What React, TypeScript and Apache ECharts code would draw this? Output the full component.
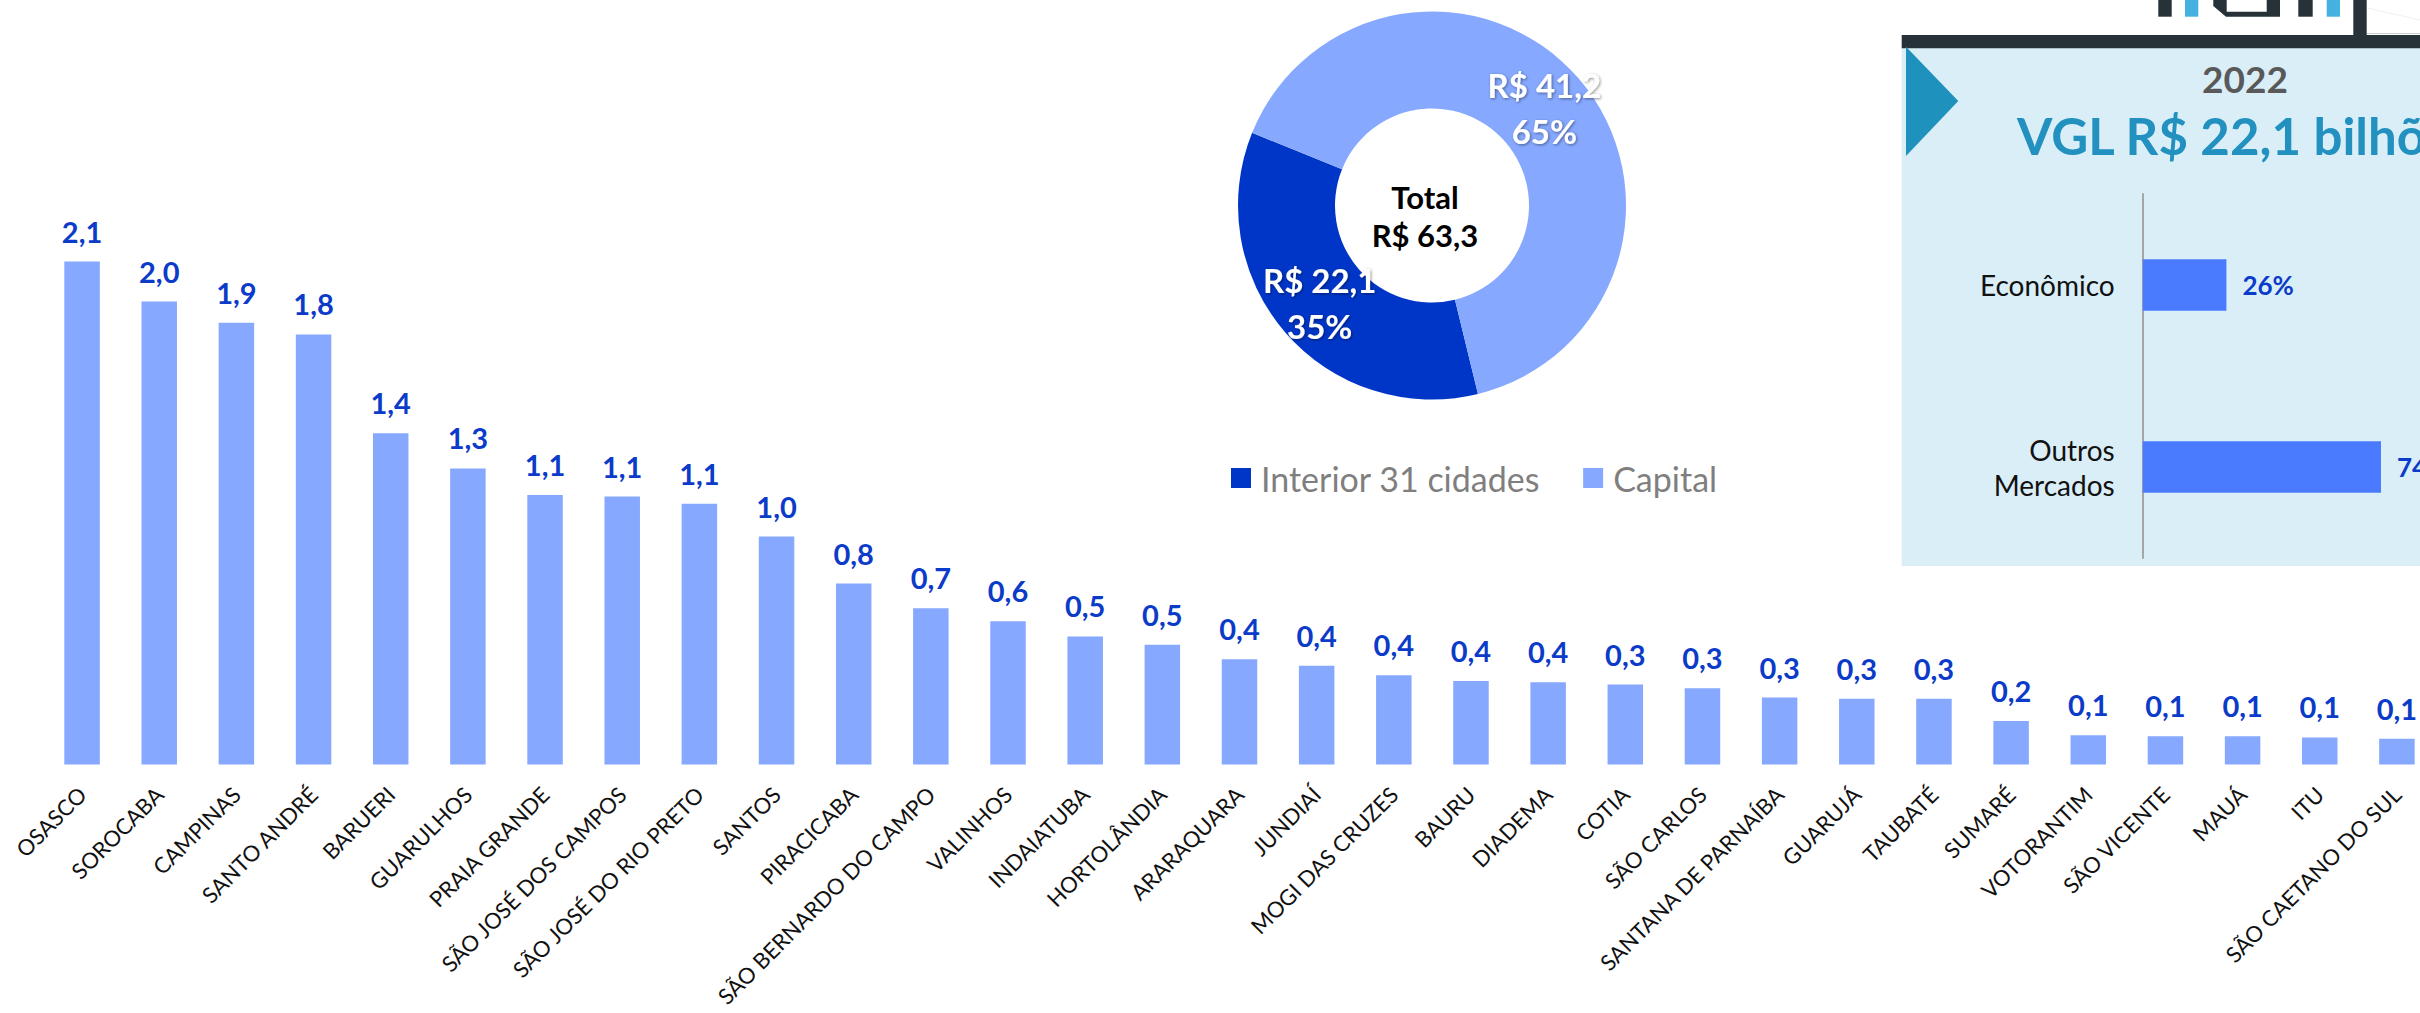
import React, { useEffect, useRef } from "react";
import * as echarts from "echarts";

const cities = [
  "OSASCO", "SOROCABA", "CAMPINAS", "SANTO ANDRÉ", "BARUERI", "GUARULHOS",
  "PRAIA GRANDE", "SÃO JOSÉ DOS CAMPOS", "SÃO JOSÉ DO RIO PRETO", "SANTOS",
  "PIRACICABA", "SÃO BERNARDO DO CAMPO", "VALINHOS", "INDAIATUBA", "HORTOLÂNDIA",
  "ARARAQUARA", "JUNDIAÍ", "MOGI DAS CRUZES", "BAURU", "DIADEMA", "COTIA",
  "SÃO CARLOS", "SANTANA DE PARNAÍBA", "GUARUJÁ", "TAUBATÉ", "SUMARÉ",
  "VOTORANTIM", "SÃO VICENTE", "MAUÁ", "ITU", "SÃO CAETANO DO SUL",
];
const cityValues = [
  2.14, 1.97, 1.88, 1.83, 1.41, 1.26, 1.147, 1.14, 1.11, 0.97,
  0.77, 0.665, 0.61, 0.545, 0.51, 0.448, 0.42, 0.38, 0.355, 0.35,
  0.34, 0.325, 0.285, 0.28, 0.28, 0.185, 0.125, 0.12, 0.12, 0.115, 0.11,
];

const regionNames = ["Interior 31 cidades", "Capital"];
const regionValues = [22.1, 41.2];

const segmentNames = ["Econômico", "Outros\nMercados"];
const segmentShares = [26, 74];

const panelYear = "2022";
const panelTitle = "VGL R$ 22,1 bilhões";

const FONT = "Lato";
const LABEL_BLUE = "#0B3BC8";
const BAR_LIGHT = "#86A8FF";
const DONUT_DARK = "#0036C8";
const LOGO_DARK = "#263238";
const LOGO_LIGHT = "#45B1E0";

const fmt1 = (v: number) => (Math.round(v * 10) / 10).toFixed(1).replace(".", ",");

export default function App() {
  const ref = useRef<HTMLDivElement>(null);

  useEffect(() => {
    if (!ref.current) return;
    const chart = echarts.init(ref.current, null, { renderer: "svg" });
    const total = regionValues.reduce((a, b) => a + b, 0);

    const option: any = {
      animation: false,
      backgroundColor: "#ffffff",
      textStyle: { fontFamily: FONT },
      grid: [
        { left: 43.5, top: 59.5, width: 2392, height: 705, outerBoundsMode: "none", containLabel: false },
        { left: 2142.7, top: 194, width: 322, height: 364, outerBoundsMode: "none", containLabel: false },
      ],
      xAxis: [
        {
          type: "category",
          gridIndex: 0,
          data: cities,
          axisLine: { show: false },
          axisTick: { show: false },
          axisLabel: {
            rotate: 45,
            interval: 0,
            margin: 26,
            fontSize: 22,
            color: "#111111",
            fontFamily: FONT,
          },
        },
        {
          type: "value",
          gridIndex: 1,
          min: 0,
          max: 100,
          show: false,
        },
      ],
      yAxis: [
        { type: "value", gridIndex: 0, min: 0, max: 3, show: false },
        {
          type: "category",
          gridIndex: 1,
          data: segmentNames,
          inverse: true,
          axisLine: { show: true, lineStyle: { color: "#A6A6A6", width: 2 } },
          axisTick: { show: false },
          axisLabel: {
            margin: 28,
            fontSize: 28,
            lineHeight: 35,
            color: "#111111",
            fontFamily: FONT,
            align: "right",
          },
          splitLine: { show: false },
        },
      ],
      legend: {
        data: regionNames,
        left: 1226,
        top: 456,
        itemWidth: 20,
        itemHeight: 20,
        itemGap: 43,
        icon: "rect",
        selectedMode: false,
        textStyle: { fontSize: 34, color: "#7F7F7F", fontFamily: FONT, padding: [0, 0, 0, 5] },
      },
      series: [
        {
          type: "bar",
          xAxisIndex: 0,
          yAxisIndex: 0,
          data: cityValues,
          barWidth: 35.5,
          itemStyle: { color: BAR_LIGHT },
          label: {
            show: true,
            position: "top",
            distance: 16,
            fontSize: 29,
            fontWeight: "bold",
            color: LABEL_BLUE,
            fontFamily: FONT,
            formatter: (p: any) => fmt1(p.value),
          },
        },
        {
          type: "pie",
          center: [1432, 205.5],
          radius: [97, 194],
          startAngle: 283.7,
          clockwise: true,
          data: regionNames.map((n, i) => ({
            name: n,
            value: regionValues[i],
            itemStyle: { color: i === 0 ? DONUT_DARK : BAR_LIGHT },
          })),
          label: {
            show: true,
            position: "inside",
            color: "#ffffff",
            fontSize: 33,
            fontWeight: "bold",
            lineHeight: 46,
            fontFamily: FONT,
            textShadowColor: "rgba(0,0,0,0.45)",
            textShadowBlur: 3,
            textShadowOffsetX: 1,
            textShadowOffsetY: 1,
            formatter: (p: any) => `R$ ${fmt1(p.value)}\n${Math.round(p.percent)}%`,
          },
          labelLine: { show: false },
          emphasis: { disabled: true },
        },
        {
          type: "bar",
          xAxisIndex: 1,
          yAxisIndex: 1,
          data: segmentShares,
          barWidth: 51.5,
          itemStyle: { color: "#4A7BFF" },
          z: 5,
          label: {
            show: true,
            position: "right",
            distance: 16,
            fontSize: 26,
            fontWeight: "bold",
            color: LABEL_BLUE,
            fontFamily: FONT,
            formatter: (p: any) => `${p.value}%`,
          },
        },
      ],
      graphic: [
        {
          type: "rect",
          z: 0,
          shape: { x: 1901.7, y: 48, width: 600, height: 518 },
          style: { fill: "#DAEEF8" },
        },
        {
          type: "rect",
          z: 1,
          shape: { x: 1901.7, y: 35, width: 600, height: 13.3 },
          style: { fill: LOGO_DARK },
        },
        {
          type: "polygon",
          z: 1,
          shape: { points: [[1906, 46.7], [1958.3, 101], [1906, 156]] },
          style: { fill: "#1F91BD" },
        },
        { type: "rect", z: 1, shape: { x: 2158.3, y: 0, width: 13.4, height: 16.7 }, style: { fill: LOGO_DARK } },
        { type: "rect", z: 1, shape: { x: 2185, y: 0, width: 13.3, height: 16.7 }, style: { fill: LOGO_LIGHT } },
        {
          type: "polygon",
          z: 1,
          shape: {
            points: [
              [2213.3, 0], [2226.7, 0], [2226.7, 11.7], [2266.7, 11.7], [2266.7, 0],
              [2280, 0], [2280, 16.7], [2226, 16.7], [2213.3, 6],
            ],
          },
          style: { fill: LOGO_DARK },
        },
        { type: "rect", z: 1, shape: { x: 2298.3, y: 0, width: 14.4, height: 16.7 }, style: { fill: LOGO_DARK } },
        { type: "rect", z: 1, shape: { x: 2326.7, y: 0, width: 13.3, height: 16.7 }, style: { fill: LOGO_LIGHT } },
        { type: "rect", z: 1, shape: { x: 2353.3, y: 0, width: 13.4, height: 36 }, style: { fill: LOGO_DARK } },
        {
          type: "line",
          z: 1,
          shape: { x1: 2367, y1: 33.5, x2: 2480, y2: 33.5 },
          style: { stroke: "#C8CDD0", lineWidth: 1 },
        },
        {
          type: "line",
          z: 1,
          shape: { x1: 2367, y1: 8, x2: 2420, y2: 20 },
          style: { stroke: "#EEF0F2", lineWidth: 1 },
        },
        {
          type: "text",
          z: 3,
          style: {
            text: panelYear,
            x: 2245,
            y: 78,
            fill: "#595959",
            font: `bold 37px ${FONT}`,
            textAlign: "center",
            textVerticalAlign: "middle",
          },
        },
        {
          type: "text",
          z: 3,
          style: {
            text: panelTitle,
            x: 2017,
            y: 135,
            fill: "#2291C0",
            font: `bold 51px ${FONT}`,
            textAlign: "left",
            textVerticalAlign: "middle",
          },
        },
        {
          type: "text",
          z: 3,
          style: {
            text: `Total\nR$ ${fmt1(total)}`,
            x: 1425,
            y: 216,
            fill: "#000000",
            font: `bold 31px ${FONT}`,
            lineHeight: 38,
            textAlign: "center",
            textVerticalAlign: "middle",
          },
        },
      ],
    };

    chart.setOption(option);
    return () => chart.dispose();
  }, []);

  return (
    <div
      style={{
        position: "fixed",
        left: 0,
        top: 0,
        width: 2420,
        height: 1013,
        overflow: "hidden",
        background: "#fff",
      }}
    >
      <div ref={ref} style={{ width: 2480, height: 1013 }} />
    </div>
  );
}
